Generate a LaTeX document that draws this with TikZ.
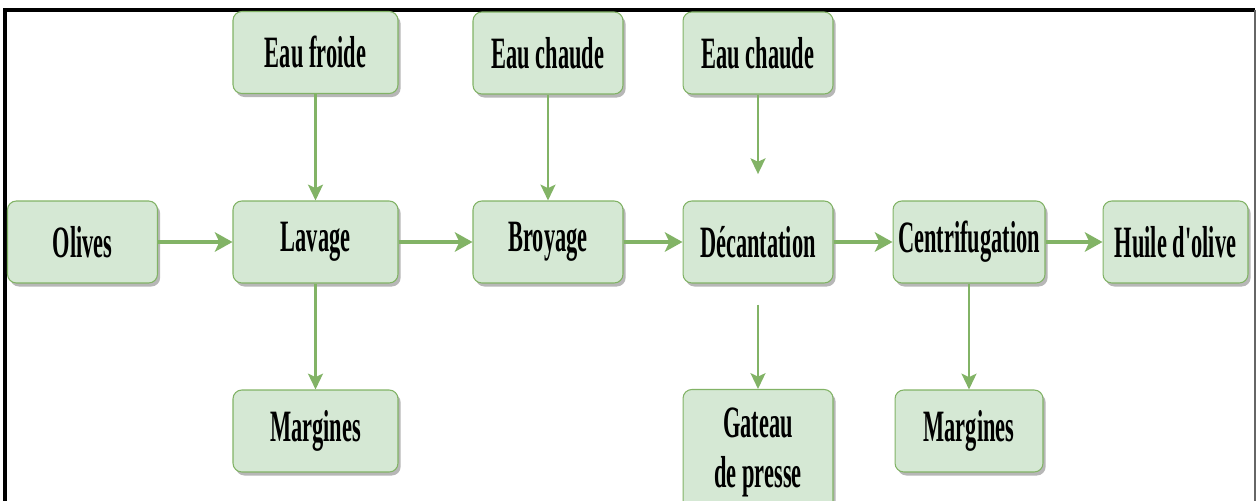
\documentclass[tikz,border=0pt]{standalone}
\usepackage{fontspec}
\setmainfont{Liberation Serif}[FakeStretch=0.5,Ligatures=TeXOff]
\usepackage{tikz}
\usetikzlibrary{arrows.meta,shadows}

\definecolor{boxfill}{HTML}{D5E8D4}
\definecolor{boxline}{HTML}{82B366}

\begin{document}
\begin{tikzpicture}[x=0.02cm,y=-0.02cm,
	stepbox/.style={draw=boxline,line width=0.6pt,fill=boxfill,rounded corners=5pt,
		minimum width=3cm,minimum height=1.64cm,inner sep=0pt,align=center,
		font=\bfseries\fontsize{25.5}{28.5}\selectfont,
		drop shadow={shadow xshift=1.5pt,shadow yshift=-2pt,fill=gray!80,opacity=0.7}},
	widebox/.style={stepbox,minimum width=3.3cm},
	flow/.style={draw=boxline,line width=2.6pt,-{Stealth[length=10pt,width=11pt,inset=2.5pt]}},
	feed/.style={draw=boxline,line width=1.5pt,-{Stealth[length=9pt,width=8.5pt,inset=2pt]}}]
	\useasboundingbox (0,0) rectangle (1256,500);
	% frame
	\draw [black,line width=2pt] (5,505) -- (5,10) -- (1255,10);
	\draw [black!60,line width=1.2pt] (1255,10) -- (1255,505);
	% main line
	\node [stepbox,minimum width=3cm] (olives) at (82.5,242) {Olives};
	\node [widebox] (lavage) at (315.5,242) {Lavage};
	\node [stepbox] (broyage) at (548,242) {Broyage};
	\node [stepbox] (decant) at (758,242) {D\'ecantation};
	\node [stepbox,minimum width=3.04cm] (centri) at (969,242) {Centrifugation};
	\node [stepbox,minimum width=2.9cm] (huile) at (1175.5,242) {Huile d'olive};
	% inputs
	\node [widebox] (froide) at (315.5,52.5) {Eau froide};
	\node [stepbox] (chaudeA) at (548,53) {Eau chaude};
	\node [stepbox] (chaudeB) at (758,53) {Eau chaude};
	% outputs
	\node [widebox] (marginesA) at (315.5,431) {Margines};
	\node [stepbox,minimum height=2.5cm] (gateau) at (758,452) {Gateau\\de presse};
	\node [stepbox,minimum width=2.96cm] (marginesB) at (969,431) {Margines};
	% connectors
	\draw [flow] (olives) -- (lavage);
	\draw [flow] (lavage) -- (broyage);
	\draw [flow] (broyage) -- (decant);
	\draw [flow] (decant) -- (centri);
	\draw [flow] (centri) -- (huile);
	\draw [feed] (froide) -- (lavage);
	\draw [feed] (chaudeA) -- (broyage);
	\draw [feed,shorten >=15] (chaudeB) -- (decant);
	\draw [feed] (lavage) -- (marginesA);
	\draw [feed,shorten <=12] (decant) -- (gateau);
	\draw [feed] (centri) -- (marginesB);
\end{tikzpicture}
\end{document}
